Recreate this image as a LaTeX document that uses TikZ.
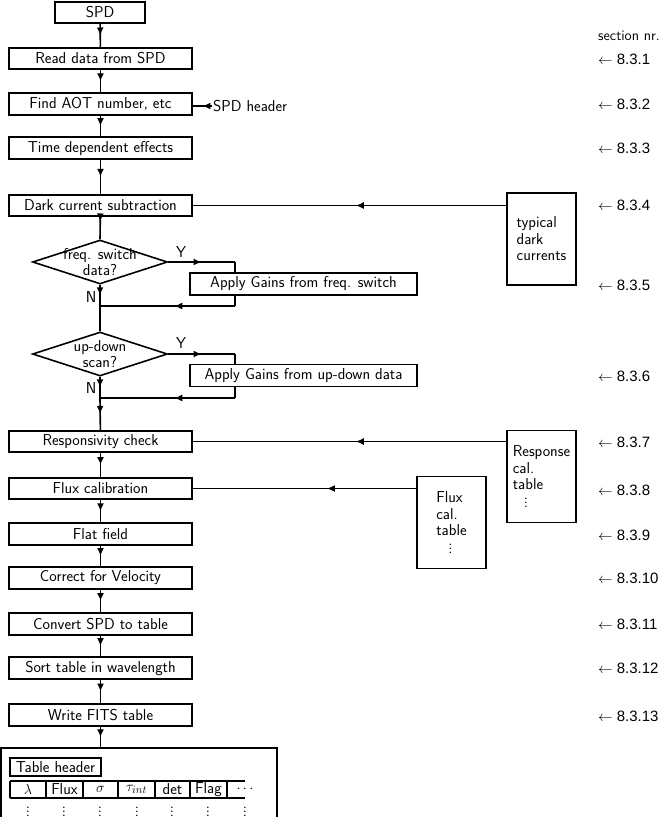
\documentclass[tikz,border=0pt]{standalone}
\usepackage{fontspec}
\newfontfamily\secfont{Liberation Sans}
\usetikzlibrary{shapes.geometric,decorations.markings,arrows.meta}
\begin{document}
\begin{tikzpicture}[x=1pt,y=-1pt,
  every node/.style={font=\sffamily\fontsize{15.8}{17}\selectfont},
  ln/.style={line width=1.6pt},
  proc/.style={draw,line width=1.6pt,minimum width=183pt,minimum height=21.5pt,inner sep=0pt},
  gain/.style={draw,line width=1.6pt,minimum width=227pt,minimum height=22pt,inner sep=0pt},
  dec/.style={diamond,draw,line width=1.6pt,minimum width=135pt,minimum height=44pt,inner sep=0pt,aspect=3},
  store/.style={draw,line width=1.6pt,minimum width=69pt,minimum height=92pt,inner sep=0pt,align=left,font=\sffamily\fontsize{15.8}{16.5}\selectfont},
  marr/.style={postaction={decorate},decoration={markings,mark=at position #1 with {\arrow{Latex[length=8pt,width=7pt]}}}},
  marr/.default=0.5,
  sec/.style={anchor=west,font=\secfont\fontsize{15}{17}\selectfont,inner sep=0pt},
  yn/.style={inner sep=0pt}
]
\useasboundingbox (0,0) rectangle (665,817);

% main flow
\node[proc,minimum width=90pt] (spd) at (100,12.5) {SPD};
\node[proc] (read) at (100.5,58.5) {Read data from SPD};
\node[proc] (aot) at (100.5,104) {Find AOT number, etc};
\node[proc] (time) at (100.5,148) {Time dependent effects};
\node[proc] (dark) at (100.5,205.5) {Dark current subtraction};
\node[dec,label={[align=center,font=\sffamily\fontsize{15.8}{12.5}\selectfont]center:freq. switch\\data?}] (d1) at (100,262) {};
\node[gain] (g1) at (303.5,284) {Apply Gains from freq. switch};
\coordinate (j1) at (100,306);
\coordinate (g1in) at (235,262);
\node[dec,label={[align=center,font=\sffamily\fontsize{15.8}{12.5}\selectfont]center:up-down\\scan?}] (d2) at (100,354) {};
\node[gain] (g2) at (303.5,375.5) {Apply Gains from up-down data};
\coordinate (j2) at (100,398);
\coordinate (g2in) at (235,354);
\node[proc] (resp) at (100.5,441.5) {Responsivity check};
\node[proc] (fcal) at (100.5,488.5) {Flux calibration};
\node[proc] (flat) at (100.5,534) {Flat field};
\node[proc] (vel) at (100.5,578) {Correct for Velocity};
\node[proc] (conv) at (100.5,624) {Convert SPD to table};
\node[proc] (sort) at (100.5,668) {Sort table in wavelength};
\node[proc] (fits) at (100.5,715) {Write FITS table};
\coordinate (tbtop) at (100.5,748);

% side inputs
\node[anchor=west,inner sep=1pt] (hdr) at (212,106) {SPD header};
\node[store] (tdc) at (541.5,239) {typical\\dark\\currents};
\node[store] (rtab) at (541.5,476.5) {Response\\cal.\\table\\[1pt]\hspace{11pt}$\vdots$};
\node[store] (ftab) at (451.5,522.5) {Flux\\cal.\\table\\[1pt]\hspace{12pt}$\vdots$};

% Y / N labels
\node[yn] (y1) at (181,252) {Y};
\node[yn] (n1) at (91,297) {N};
\node[yn] (y2) at (181,343) {Y};
\node[yn] (n2) at (91,388) {N};

% connectors
\draw[ln,marr] (spd) -- (read);
\draw[ln,marr] (read) -- (aot);
\draw[ln,marr] (aot) -- (time);
\draw[ln,marr] (time) -- (dark);
\draw[ln,marr=0.2] (dark) -- (d1.north);
\draw[ln,marr] (d1.south) -- (j1);
\draw[ln] (j1) -- (d2.north);
\draw[ln,marr] (d1.east) -- (g1in);
\draw[ln] (g1in) -- (g1in |- g1.north);
\draw[ln] (g1in |- g1.south) -- (g1in |- j1);
\draw[ln,marr=0.45] (g1in |- j1) -- (j1);
\draw[ln,marr] (d2.south) -- (j2);
\draw[ln,marr] (j2) -- (resp);
\draw[ln,marr] (d2.east) -- (g2in);
\draw[ln] (g2in) -- (g2in |- g2.north);
\draw[ln] (g2in |- g2.south) -- (g2in |- j2);
\draw[ln,marr=0.45] (g2in |- j2) -- (j2);
\draw[ln,marr] (resp) -- (fcal);
\draw[ln,marr] (fcal) -- (flat);
\draw[ln,marr] (flat) -- (vel);
\draw[ln,marr] (vel) -- (conv);
\draw[ln,marr] (conv) -- (sort);
\draw[ln,marr] (sort) -- (fits);
\draw[ln,marr] (fits) -- (tbtop);

\draw[ln,marr] (hdr.west) -- (aot.east |- hdr.west);
\draw[ln,marr=0.48] (dark.east -| tdc.west) -- (dark.east);
\draw[ln,marr=0.48] (resp.east -| rtab.west) -- (resp.east);
\draw[ln,marr=0.4] (fcal.east -| ftab.west) -- (fcal.east);

% section numbers
\node[anchor=west,inner sep=0pt,font=\sffamily\fontsize{14.5}{16}\selectfont] (secnr) at (598,36) {section nr.};
\node[sec] (s1) at (598,59) {$\leftarrow$ 8.3.1};
\node[sec] (s2) at (598,104) {$\leftarrow$ 8.3.2};
\node[sec] (s3) at (598,148) {$\leftarrow$ 8.3.3};
\node[sec] (s4) at (598,205) {$\leftarrow$ 8.3.4};
\node[sec] (s5) at (598,285) {$\leftarrow$ 8.3.5};
\node[sec] (s6) at (598,376) {$\leftarrow$ 8.3.6};
\node[sec] (s7) at (598,442) {$\leftarrow$ 8.3.7};
\node[sec] (s8) at (598,490) {$\leftarrow$ 8.3.8};
\node[sec] (s9) at (598,535) {$\leftarrow$ 8.3.9};
\node[sec] (s10) at (598,578) {$\leftarrow$ 8.3.10};
\node[sec] (s11) at (598,624) {$\leftarrow$ 8.3.11};
\node[sec] (s12) at (598,668) {$\leftarrow$ 8.3.12};
\node[sec] (s13) at (598,716) {$\leftarrow$ 8.3.13};

% output table
\draw[ln] (1,830) -- (1,748) -- (277,748) -- (277,830);
\node[draw,ln,minimum width=91pt,minimum height=18pt,inner sep=0pt] (th) at (55.5,767) {Table header};
\draw[ln] (10,781) -- (245,781) (10,798) -- (245,798);
\foreach \xx in {10,46,83,118,155,190,227} \draw[ln] (\xx,781) -- (\xx,798);
\node[inner sep=0pt] (c1) at (28,789.5) {$\lambda$};
\node[inner sep=0pt] (c2) at (64.5,789.5) {Flux};
\node[inner sep=0pt] (c3) at (100.5,789.5) {$\sigma$};
\node[inner sep=0pt] (c4) at (136.5,789.5) {$\tau_{int}$};
\node[inner sep=0pt] (c5) at (172.5,789.5) {det};
\node[inner sep=0pt] (c6) at (208.5,789.5) {Flag};
\node[inner sep=0pt] (c7) at (245,789.5) {$\cdots$};
\foreach \xx in {28,64,100,137,172,208,245} \node[inner sep=0pt] at (\xx,808.5) {$\vdots$};
\end{tikzpicture}
\end{document}
